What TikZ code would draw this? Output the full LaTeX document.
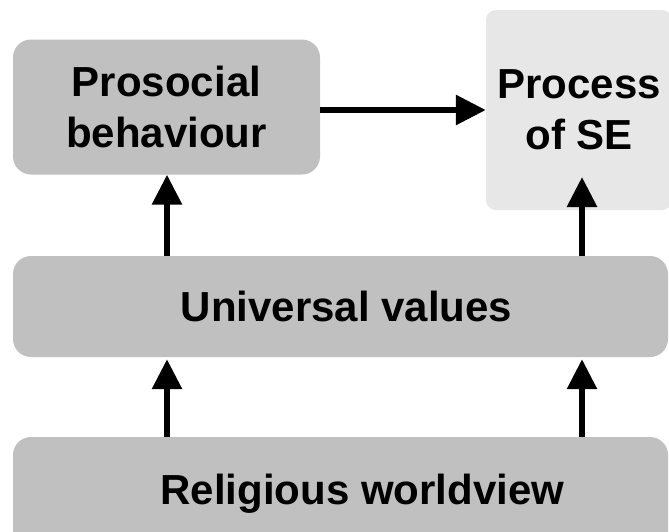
\documentclass[tikz,border=0pt]{standalone}
\usepackage{fontspec}
\setmainfont{Liberation Sans}
\usetikzlibrary{arrows.meta}
\definecolor{boxgray}{RGB}{192,192,192}
\definecolor{palegray}{RGB}{231,231,231}
\begin{document}
\begin{tikzpicture}[x=1pt,y=-1pt,
  box/.style={fill=boxgray, draw=none, rounded corners=18pt, inner sep=0pt,
    align=center, font=\bfseries\fontsize{42}{51}\selectfont},
  arr/.style={line width=6pt, -{Triangle[length=30pt,width=29pt]}}]
\useasboundingbox (0,0) rectangle (669,531);
\clip (0,0) rectangle (669,531);
\fill[white] (0,0) rectangle (669,531);

% boxes
\node[box, minimum width=307pt, minimum height=135pt] (pb) at (166.5,107)
  {Prosocial\\behaviour};
\node[box, fill=palegray, rounded corners=10pt, minimum width=186pt,
  minimum height=200pt] (pse) at (579,110) {Process\\of SE};
\node[box, minimum width=655pt, minimum height=101pt] (uv) at (340.5,306.5)
  {\hspace*{12pt}Universal values};
\node[box, minimum width=655pt, minimum height=114pt] (rw) at (340.5,494)
  {\hspace*{44pt}Religious worldview};

% arrow columns
\coordinate (colL) at (167,0);
\coordinate (colR) at (582,0);
\coordinate (tipR) at (582,177);

% connectors
\draw[arr] ([yshift=-3pt]pb.east) -- ([yshift=-3pt]pb.east -| pse.west);
\draw[arr] (uv.north -| colL) -- (pb.south -| colL);
\draw[arr] (uv.north -| colR) -- (tipR);
\draw[arr] (rw.north -| colL) -- ([yshift=-2pt]uv.south -| colL);
\draw[arr] (rw.north -| colR) -- ([yshift=-2pt]uv.south -| colR);
\end{tikzpicture}
\end{document}
